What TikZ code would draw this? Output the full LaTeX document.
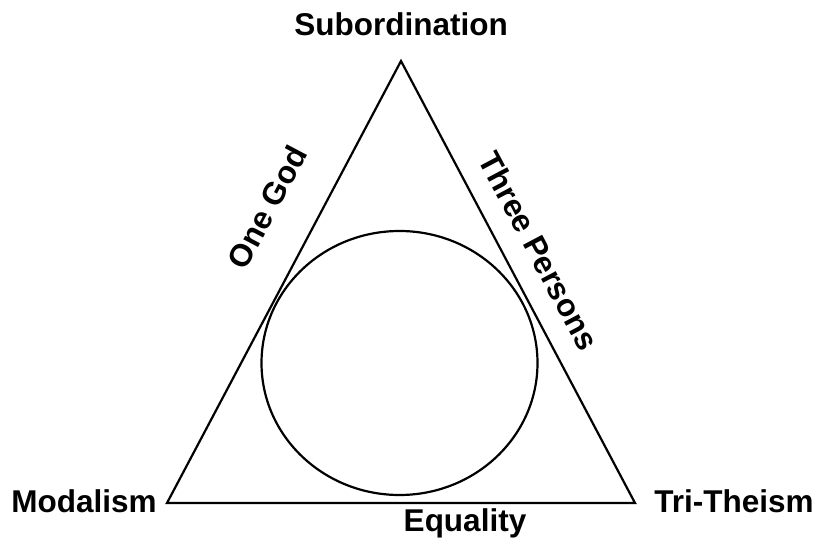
\documentclass[tikz,border=0pt]{standalone}
\usepackage{fontspec}
\usetikzlibrary{shapes.geometric}
\setmainfont{Liberation Sans}
\begin{document}
\begin{tikzpicture}[x=1pt,y=-1pt,
  lbl/.style={font=\fontsize{31.5}{36}\selectfont\bfseries, inner sep=0pt},
  outline/.style={draw=black, line width=2.2pt}]
\useasboundingbox (0,0) rectangle (817,540);
\coordinate (A) at (401,61);
\coordinate (B) at (167,503);
\coordinate (C) at (635,503);
\draw[outline, line join=miter] (A) -- (B) -- (C) -- cycle;
\node[outline, ellipse, minimum width=276pt, minimum height=264pt, inner sep=0pt] (circ) at (399.5,363) {};
\node[lbl] (sub) at (401,24) {Subordination};
\node[lbl] (mod) at (84,501) {Modalism};
\node[lbl] (tri) at (734,501) {Tri-Theism};
\node[lbl] (eq) at (465,523) {Equality};
\node[lbl, rotate=62.1] (one) at (267,207) {One God};
\node[lbl, rotate=-62.1] (three) at (539,251) {Three Persons};
\end{tikzpicture}
\end{document}
